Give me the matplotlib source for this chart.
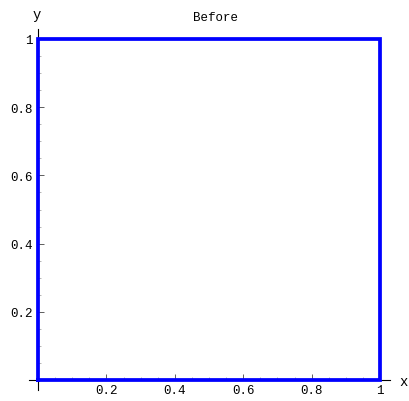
import matplotlib
matplotlib.use("Agg")
import matplotlib.pyplot as plt
import numpy as np

# Data: the unit square outline
square_x = [0, 1, 1, 0, 0]
square_y = [0, 0, 1, 1, 0]
x_ticks = [0.2, 0.4, 0.6, 0.8, 1.0]
x_tick_labels = ["0.2", "0.4", "0.6", "0.8", "1"]
y_ticks = [0.2, 0.4, 0.6, 0.8, 1.0]
y_tick_labels = ["0.2", "0.4", "0.6", "0.8", "1"]
title = "Before"

plt.rcParams['font.family'] = ['Liberation Mono', 'DejaVu Sans Mono']

W, H = 409, 402
fig = plt.figure(figsize=(W / 100, H / 100), dpi=100)
# x: pixel = 38 + 342*x ; y: pixel(top) = 381 - 341*y
xlim = (-0.025, 1.03)
ylim = (-0.03, 1.03)
left_px = 38 + 342 * xlim[0]
right_px = 38 + 342 * xlim[1]
bot_px = 381 - 341 * ylim[0]
top_px = 381 - 341 * ylim[1]
ax = fig.add_axes([left_px / W, (H - bot_px) / H,
                   (right_px - left_px) / W, (bot_px - top_px) / H])
ax.set_xlim(*xlim)
ax.set_ylim(*ylim)

ax.plot(square_x, square_y, color='#0000ff', lw=2.7, solid_joinstyle='miter',
        clip_on=False, zorder=3)

for s in ['top', 'right']:
    ax.spines[s].set_visible(False)
ax.spines['left'].set_position(('data', 0))
ax.spines['bottom'].set_position(('data', 0))
ax.spines['left'].set_linewidth(0.8)
ax.spines['bottom'].set_linewidth(0.8)

ax.set_xticks(x_ticks)
ax.set_xticklabels(x_tick_labels)
ax.set_yticks(y_ticks)
ax.set_yticklabels(y_tick_labels)
ax.set_xticks(np.arange(0.05, 1.01, 0.05), minor=True)
ax.set_yticks(np.arange(0.05, 1.01, 0.05), minor=True)
ax.tick_params(axis='both', which='major', direction='in', length=4, width=0.6,
               labelsize=9, color='#444444')
ax.tick_params(axis='both', which='minor', direction='in', length=2, width=0.5,
               color='#999999')
ax.tick_params(axis='x', pad=3)
ax.tick_params(axis='y', pad=4)

fig.text(215 / W, 1 - 18 / H, title, ha='center', va='center', fontsize=9)
fig.text(37 / W, 1 - 15 / H, 'y', ha='center', va='center', fontsize=10)
fig.text(404 / W, 1 - 382 / H, 'x', ha='center', va='center', fontsize=10)

fig.savefig('out.png', dpi=100)
